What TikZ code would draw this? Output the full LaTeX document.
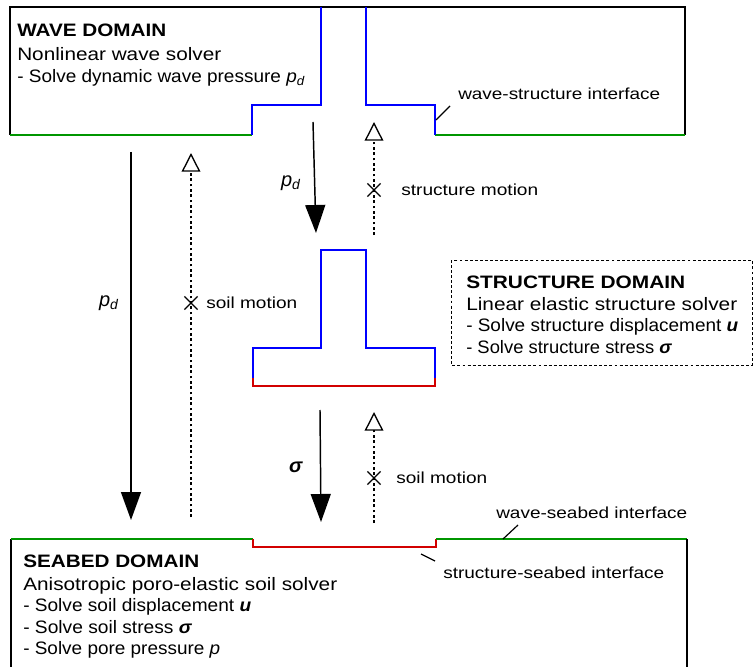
\documentclass[tikz,border=0pt]{standalone}
\usepackage{fontspec}
\usepackage{graphicx}
\setmainfont{Liberation Sans}
\usetikzlibrary{arrows.meta,shapes.misc}
\definecolor{wblue}{RGB}{0,0,255}
\definecolor{wgreen}{RGB}{0,150,0}
\definecolor{wred}{RGB}{210,0,0}
\newcommand\domfont{\fontsize{13.5pt}{16pt}\selectfont}
\newcommand\labfont{\fontsize{12pt}{15pt}\selectfont}
\newcommand\symfont{\fontsize{15pt}{18pt}\selectfont}
\newcommand\pdsym{\textit{p}\textsubscript{\textit{d}}}
\newcommand\bsig{\textbf{\textit{σ}}}
\newcommand\bvec{\textbf{\textit{u}}}
\newcommand\fw[2]{\resizebox{#1pt}{\height}{#2}}
\tikzset{
  outl/.style={line width=1.5pt},
  blk/.style={outl, black},
  bl/.style={outl, wblue},
  gr/.style={outl, wgreen},
  rd/.style={line width=1.9pt, wred},
  txt/.style={anchor=base west, inner sep=0pt, font=\domfont},
  lab/.style={anchor=base west, inner sep=0pt, font=\labfont},
  force/.style={line width=1.1pt, -{Triangle[width=15pt,length=21pt]}},
  motion/.style={line width=1pt, dash pattern=on 2pt off 2pt, -{Triangle[open,width=14pt,length=14pt,line width=1pt]}},
  xmark/.style={cross out, draw, line width=0.9pt, minimum size=9pt, inner sep=0pt},
  leader/.style={line width=0.9pt},
  dbox/.style={line width=0.75pt, dash pattern=on 2.2pt off 1.6pt}
}
\begin{document}
\begin{tikzpicture}[x=0.75pt,y=-0.75pt]
\useasboundingbox (0,0) rectangle (754,667);

% ---------- wave domain ----------
\draw[blk] (10,135) -- (10,7) -- (321,7);
\draw[line width=2.2pt] (321,7) -- (366,7);
\draw[blk] (366,7) -- (685,7) -- (685,135);
\draw[gr] (10,135) -- (252,135);
\draw[gr] (435,135) -- (685,135);
\draw[bl] (252,135) -- (252,105) -- (321,105) -- (321,7);
\draw[bl] (366,7) -- (366,105) -- (435,105) -- (435,135);

\node[txt, font=\domfont\bfseries] (w1) at (17,37) {\fw{111.75}{WAVE DOMAIN}};
\node[txt] (w2) at (17,61) {\fw{153}{Nonlinear wave solver}};
\node[txt] (w3) at (17,83) {\fw{216}{- Solve dynamic wave pressure \pdsym}};

\node[lab] (wsi) at (458,100) {\fw{151.5}{wave-structure interface}};
\coordinate (wsiA) at (450,106);
\coordinate (wsiB) at (436,120);
\draw[leader] (wsiA) -- (wsiB);

% ---------- structure ----------
\draw[bl] (253,378) -- (253,348) -- (321,348) -- (321,250) -- (366,250) -- (366,348) -- (435,348) -- (435,378);
\draw[rd] (253,378) -- (253,386) -- (435,386) -- (435,378);

\draw[dbox] (451,260) rectangle (752,365);
\node[txt, font=\domfont\bfseries] (s1) at (466,288) {\fw{164.25}{STRUCTURE DOMAIN}};
\node[txt] (s2) at (466,310) {\fw{203.25}{Linear elastic structure solver}};
\node[txt] (s3) at (466,331) {\fw{204}{- Solve structure displacement \bvec}};
\node[txt] (s4) at (466,353) {\fw{154.5}{- Solve structure stress \bsig}};

% ---------- seabed domain ----------
\draw[blk] (11,667) -- (11,539);
\draw[gr] (11,539) -- (253,539);
\draw[rd] (253,539) -- (253,547) -- (436,547) -- (436,539);
\draw[gr] (436,539) -- (687,539);
\draw[blk] (687,539) -- (687,667);

\node[txt, font=\domfont\bfseries] (b1) at (23,567) {\fw{132}{SEABED DOMAIN}};
\node[txt] (b2) at (23,590) {\fw{235.5}{Anisotropic poro-elastic soil solver}};
\node[txt] (b3) at (23,611) {\fw{171}{- Solve soil displacement \bvec}};
\node[txt] (b4) at (23,633) {\fw{126.75}{- Solve soil stress \bsig}};
\node[txt] (b5) at (23,654) {\fw{147.75}{- Solve pore pressure \textit{p}}};

\node[lab] (wsb) at (496,518) {\fw{143.25}{wave-seabed interface}};
\coordinate (wsbA) at (518,525);
\coordinate (wsbB) at (503,539);
\draw[leader] (wsbA) -- (wsbB);

\node[lab] (ssb) at (443,578) {\fw{165.75}{structure-seabed interface}};
\coordinate (ssbA) at (421,554);
\coordinate (ssbB) at (435,561);
\draw[leader] (ssbA) -- (ssbB);

% ---------- arrows ----------
% long p_d (wave -> seabed)
\coordinate (f1s) at (131,152);
\coordinate (f1e) at (131,520);
\draw[force] (f1s) -- (f1e);
\node[font=\symfont, inner sep=0pt] (f1l) at (109,303) {\pdsym};

% soil motion (seabed -> wave)
\coordinate (m1s) at (191,517);
\coordinate (m1e) at (191,153);
\draw[motion] (m1s) -- (m1e);
\node[xmark] (x1) at (191,303) {};
\node[lab, anchor=west] (m1l) at (206,303) {\fw{68.25}{soil motion}};

% p_d (wave -> structure)
\coordinate (f2s) at (313,122);
\coordinate (f2e) at (316,233);
\draw[force] (f2s) -- (f2e);
\node[font=\symfont, inner sep=0pt] (f2l) at (291,183) {\pdsym};

% structure motion
\coordinate (m2s) at (374,235);
\coordinate (m2e) at (374,122);
\draw[motion] (m2s) -- (m2e);
\node[xmark] (x2) at (374,190) {};
\node[lab, anchor=west] (m2l) at (401,190) {\fw{102.75}{structure motion}};

% sigma (structure -> seabed)
\coordinate (f3s) at (320,410);
\coordinate (f3e) at (321,522);
\draw[force] (f3s) -- (f3e);
\node[font=\symfont, inner sep=0pt] (f3l) at (296,467) {\bsig};

% soil motion (seabed -> structure)
\coordinate (m3s) at (374,523);
\coordinate (m3e) at (374,412);
\draw[motion] (m3s) -- (m3e);
\node[xmark] (x3) at (374,478) {};
\node[lab, anchor=west] (m3l) at (396,478) {\fw{68.25}{soil motion}};
\end{tikzpicture}
\end{document}
